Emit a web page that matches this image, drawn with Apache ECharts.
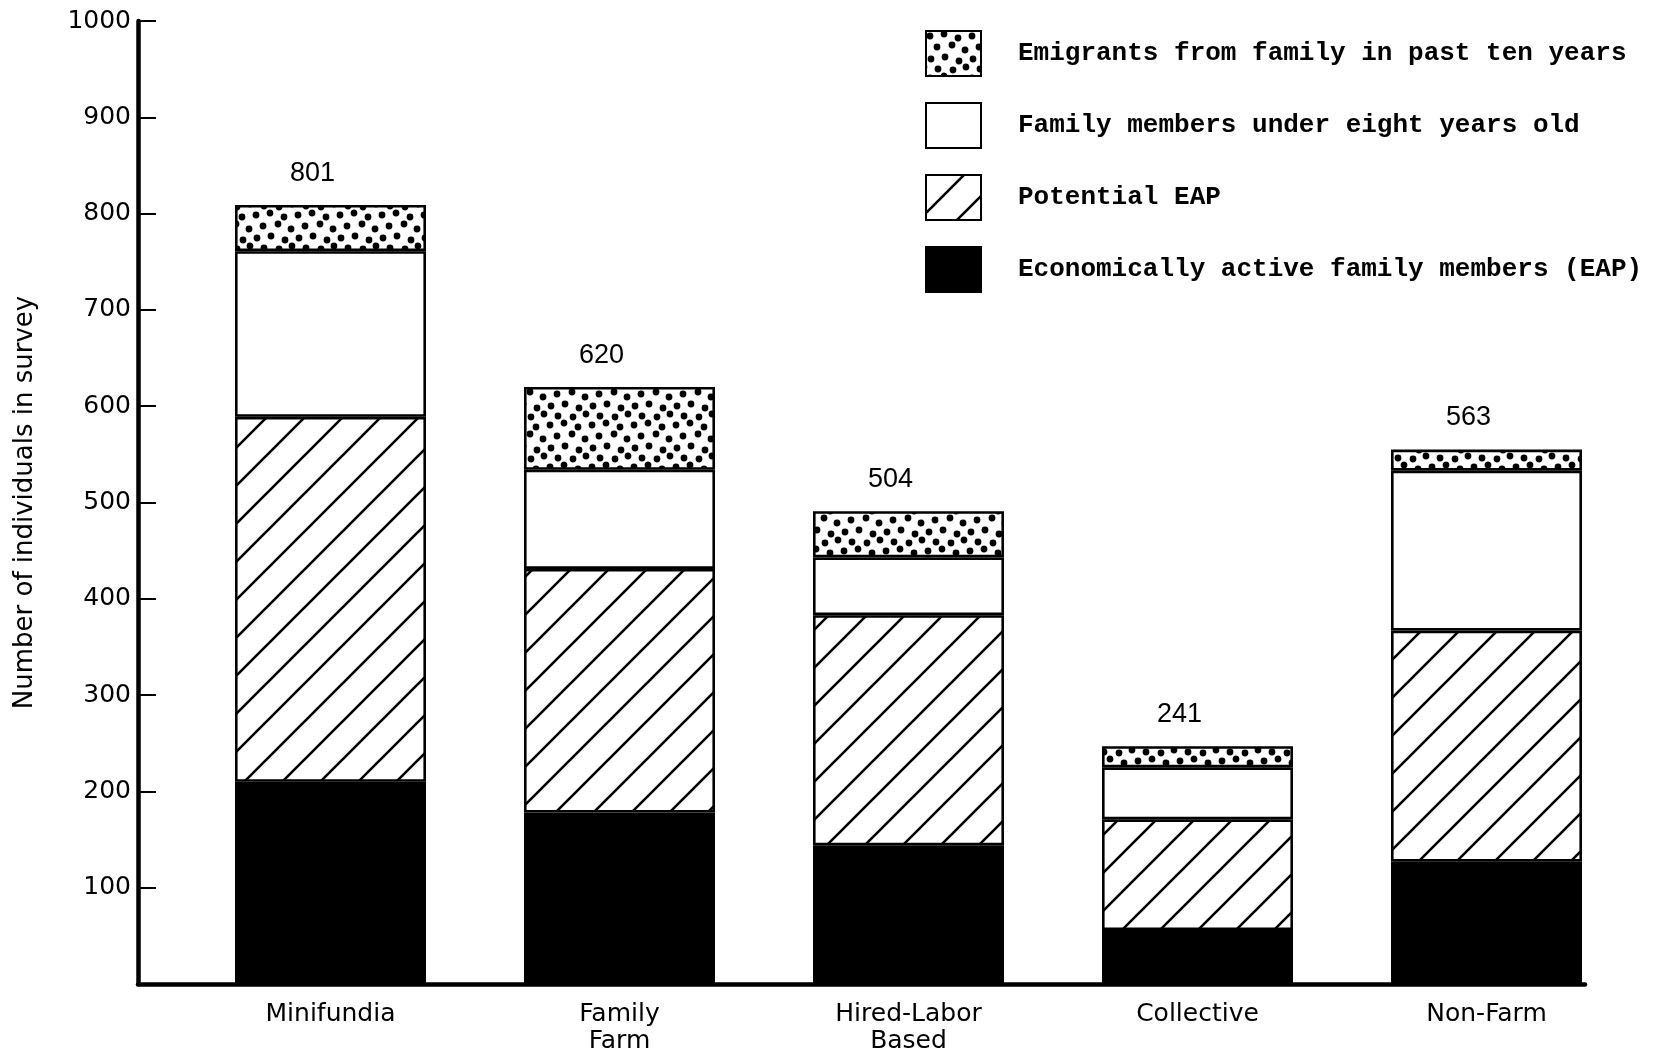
<!DOCTYPE html>
<html>
<head>
<meta charset="utf-8">
<script src="https://cdn.jsdelivr.net/npm/echarts@6/dist/echarts.min.js"></script>
<style>
html,body{margin:0;padding:0;background:#fff;}
#chart{width:1662px;height:1049px;}
</style>
</head>
<body>
<div id="chart"></div>
<script>
// ---- Data ----
const categories = ['Minifundia', 'Family\nFarm', 'Hired-Labor\nBased', 'Collective', 'Non-Farm'];
const eap = [210, 178, 144, 56, 127];
const potentialEap = [379, 253, 239, 115, 240];
const underEight = [172, 103, 60, 54, 166];
const emigrants = [48, 86, 48, 22, 22];
const totals = [801, 620, 504, 241, 563];
const yTicks = [0, 100, 200, 300, 400, 500, 600, 700, 800, 900, 1000];

const seriesNames = [
  'Economically active family members (EAP)',
  'Potential EAP',
  'Family members under eight years old',
  'Emigrants from family in past ten years'
];

// ---- Patterns ----
function hatchPattern() {
  const s = 38;
  const c = document.createElement('canvas');
  c.width = s; c.height = s;
  const g = c.getContext('2d');
  g.fillStyle = '#fff'; g.fillRect(0, 0, s, s);
  g.strokeStyle = '#000'; g.lineWidth = 2.6;
  g.beginPath();
  g.moveTo(-2, s + 2); g.lineTo(s + 2, -2);
  g.moveTo(-s / 2 - 2, s / 2 + 2); g.lineTo(s / 2 + 2, -s / 2 - 2);
  g.moveTo(s / 2 - 2, s * 1.5 + 2); g.lineTo(s * 1.5 + 2, s / 2 - 2);
  g.stroke();
  return c;
}
function dotPattern() {
  const s = 42;
  const c = document.createElement('canvas');
  c.width = s; c.height = s;
  const g = c.getContext('2d');
  g.fillStyle = '#fff'; g.fillRect(0, 0, s, s);
  g.fillStyle = '#000';
  const dots = [[4,5],[18,3],[32,7],[11,16],[26,14],[39,19],[5,28],[19,26],[33,30],[12,38],[27,39],[40,36]];
  dots.forEach(d => {
    [[0,0],[s,0],[-s,0],[0,s],[0,-s]].forEach(o => {
      g.beginPath(); g.arc(d[0] + o[0], d[1] + o[1], 3.4, 0, Math.PI * 2); g.fill();
    });
  });
  return c;
}

const chart = echarts.init(document.getElementById('chart'));
const border = { borderColor: '#000', borderWidth: 2.6 };

function barSeries(name, data, fill, extra) {
  return Object.assign({
    name: name,
    type: 'bar',
    stack: 'total',
    xAxisIndex: 1,
    yAxisIndex: 1,
    barWidth: 191,
    data: data,
    itemStyle: Object.assign({ color: fill }, border),
    emphasis: { disabled: true },
    animation: false
  }, extra || {});
}

const option = {
  backgroundColor: '#fff',
  animation: false,
  legend: {
    orient: 'vertical',
    left: 920,
    top: 25,
    itemWidth: 55,
    itemHeight: 45,
    itemGap: 25,
    icon: 'rect',
    selectedMode: false,
    data: [seriesNames[3], seriesNames[2], seriesNames[1], seriesNames[0]],
    textStyle: {
      fontFamily: 'Liberation Mono',
      fontSize: 26,
      fontWeight: 'bold',
      color: '#000',
      padding: [0, 0, 0, 32]
    }
  },
  grid: [
    { left: 138, right: 77, top: 21, bottom: 65, outerBoundsMode: 'none', containLabel: false },
    { left: 186, right: 31, top: 21, bottom: 65, outerBoundsMode: 'none', containLabel: false }
  ],
  xAxis: [
    {
      gridIndex: 0, type: 'value', min: 0, max: 1,
      axisLine: { show: true, lineStyle: { color: '#000', width: 4.5 } },
      axisTick: { show: false }, axisLabel: { show: false }, splitLine: { show: false }
    },
    {
      gridIndex: 1, type: 'category', data: categories,
      axisLine: { show: false }, axisTick: { show: false }, splitLine: { show: false },
      axisLabel: {
        margin: 17,
        fontFamily: 'DejaVu Sans',
        fontSize: 25,
        lineHeight: 27,
        color: '#000'
      }
    }
  ],
  yAxis: [
    {
      gridIndex: 0, type: 'value', min: yTicks[0], max: yTicks[yTicks.length - 1], interval: 100,
      name: 'Number of individuals in survey',
      nameLocation: 'middle',
      nameGap: 100,
      nameTextStyle: { fontFamily: 'DejaVu Sans', fontSize: 26, color: '#000' },
      axisLine: { show: true, lineStyle: { color: '#000', width: 4.5 } },
      axisTick: { show: true, inside: true, length: 18, lineStyle: { color: '#000', width: 2 } },
      splitLine: { show: false },
      axisLabel: {
        margin: 7,
        fontFamily: 'DejaVu Sans',
        fontSize: 25,
        color: '#000',
        formatter: v => (v === 0 ? '' : String(v))
      }
    },
    {
      gridIndex: 1, type: 'value', min: 0, max: 1000, interval: 100, show: false
    }
  ],
  series: [
    barSeries(seriesNames[0], eap, '#000'),
    barSeries(seriesNames[1], potentialEap, { image: hatchPattern(), repeat: 'repeat' }),
    barSeries(seriesNames[2], underEight, '#fff'),
    barSeries(seriesNames[3], emigrants, { image: dotPattern(), repeat: 'repeat' }, {
      label: {
        show: true,
        position: 'top',
        distance: 18,
        offset: [-18, 0],
        formatter: p => String(totals[p.dataIndex]),
        fontFamily: 'Liberation Sans',
        fontSize: 27,
        color: '#000'
      }
    })
  ]
};
chart.setOption(option);
</script>
</body>
</html>
